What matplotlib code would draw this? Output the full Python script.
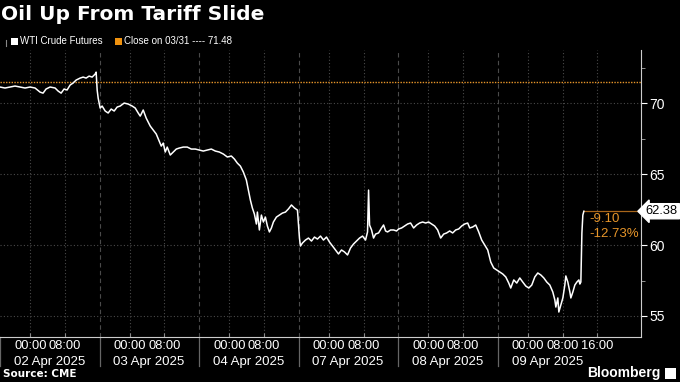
import numpy as np
import matplotlib
matplotlib.use('Agg')
import matplotlib.pyplot as plt
from matplotlib.lines import Line2D
from matplotlib.patches import Rectangle
import matplotlib.transforms as mtransforms

# trading hours since session start (CME sessions are 23 h long: 17:00 -> 16:00)
hours = [
    # 02 Apr
    0.00, 1.16, 2.31, 3.47, 4.63, 5.79, 6.94, 8.10, 9.26, 9.95, 10.64, 11.57, 12.73, 13.42, 14.12,
    14.81, 15.50, 16.20, 16.89, 17.59, 18.51, 19.21, 19.90, 20.59, 21.29, 21.98, 22.21, 22.45, 22.68, 23.14,
    # 03 Apr
    23.60, 24.30, 24.99, 25.69, 26.38, 27.07, 27.77, 28.69, 29.62, 30.54, 31.24, 31.93, 32.40, 33.09, 33.78,
    34.71, 35.40, 36.10, 36.79, 37.26, 37.72, 38.18, 38.64, 39.34, 40.03, 40.73, 41.42, 42.35, 43.27, 44.20,
    45.12, 46.05,
    # 04 Apr
    46.97, 47.90, 48.83, 49.75, 50.68, 51.60, 52.53, 53.45, 54.15, 54.84, 55.54, 56.23, 56.92, 57.39, 57.85,
    58.31, 58.78, 59.24, 59.47, 59.93, 60.40, 60.86, 61.32, 61.78, 62.25, 62.71, 63.17, 63.87, 64.56, 65.25,
    65.95, 66.64, 67.34, 68.03, 68.73, 69.19, 69.42,
    # 07 Apr
    69.88, 70.58, 71.27, 71.97, 72.66, 73.35, 74.05, 74.74, 75.44, 76.13, 76.82, 77.52, 78.21, 78.91, 79.60,
    80.30, 80.99, 81.68, 82.38, 83.07, 83.77, 84.46, 84.92, 85.16, 85.39, 85.85, 86.31, 86.78, 87.47, 88.16,
    88.63, 89.09, 89.55, 90.25, 90.94, 91.63, 92.10,
    # 08 Apr
    92.79, 93.49, 94.18, 94.87, 95.57, 96.26, 96.96, 97.65, 98.35, 99.04, 99.73, 100.43, 101.12, 101.82, 102.51,
    103.20, 103.90, 104.59, 105.29, 105.98, 106.68, 107.37, 108.06, 108.53, 109.22, 109.92, 110.61, 111.30,
    112.00, 112.69, 113.39, 114.08, 114.77,
    # 09 Apr
    115.47, 116.16, 116.86, 117.55, 118.01, 118.71, 119.40, 120.10, 120.79, 121.49, 122.18, 122.87, 123.57,
    124.26, 124.96, 125.65, 126.34, 127.04, 127.73, 128.20, 128.43, 128.89, 129.12, 129.58, 130.05, 130.51,
    130.74, 131.20, 131.67, 131.90, 132.36, 132.82, 133.29, 133.75, 133.98, 134.21, 134.45, 134.67, 134.91,
]
price = [
    71.13, 71.06, 71.13, 71.20, 71.13, 71.06, 71.13, 71.06, 70.77, 70.70, 70.99, 71.13, 71.06, 70.85, 70.70,
    70.99, 70.92, 71.27, 71.41, 71.62, 71.76, 71.83, 71.76, 71.90, 71.83, 72.04, 72.18, 70.92, 70.35, 69.65,
    69.79, 69.44, 69.30, 69.58, 69.44, 69.72, 69.79, 70.00, 69.93, 69.79, 69.65, 69.30, 69.08, 69.51, 68.94,
    68.38, 68.10, 67.82, 67.32, 66.97, 67.18, 66.55, 66.90, 66.34, 66.55, 66.76, 66.83, 66.90, 66.90, 66.76,
    66.76, 66.69,
    66.62, 66.69, 66.76, 66.62, 66.55, 66.41, 66.20, 66.27, 66.06, 65.77, 65.56, 65.14, 64.58, 63.87, 63.17,
    62.61, 62.18, 61.48, 62.32, 61.06, 62.11, 61.62, 61.97, 61.34, 60.92, 61.20, 61.62, 61.97, 62.11, 62.25,
    62.32, 62.54, 62.82, 62.61, 62.46, 60.49, 59.93,
    60.14, 60.35, 60.49, 60.28, 60.56, 60.42, 60.63, 60.35, 60.56, 60.21, 59.93, 59.65, 59.37, 59.65, 59.51,
    59.30, 59.79, 60.07, 60.28, 60.49, 60.63, 60.35, 60.92, 63.87, 61.41, 61.06, 60.49, 60.77, 60.85, 61.20,
    61.41, 60.99, 60.92, 61.06, 61.06, 60.99, 61.13,
    61.20, 61.34, 61.48, 61.55, 61.20, 61.41, 61.55, 61.62, 61.55, 61.62, 61.48, 61.34, 61.06, 60.49, 60.77,
    60.85, 60.99, 60.85, 61.06, 61.13, 61.34, 61.48, 61.55, 61.20, 61.27, 61.41, 60.92, 60.35, 60.00, 59.65,
    58.80, 58.38, 58.24,
    58.10, 57.96, 57.75, 57.32, 56.97, 57.54, 57.32, 57.68, 57.39, 57.11, 56.97, 57.18, 57.75, 58.03, 57.89,
    57.68, 57.39, 57.18, 56.69, 56.13, 55.63, 56.27, 55.28, 55.77, 56.27, 57.18, 57.82, 57.39, 56.69, 56.27,
    56.69, 57.18, 57.39, 57.54, 57.25, 57.39, 60.85, 62.11, 62.38,
]

sessions = ['02 Apr 2025', '03 Apr 2025', '04 Apr 2025', '07 Apr 2025', '08 Apr 2025', '09 Apr 2025']
session_len = 23
clock_ticks = [(7, '00:00'), (15, '08:00')]
last_extra_tick = (23, '16:00')
close_prev = 71.48
last_price = 62.38
chg_abs = '-9.10'
chg_pct = '-12.73%'
y_ticks = [55, 60, 65, 70]

ORANGE = '#e8962a'
GRID = '#4a4a4a'
NARROW = ['Liberation Sans Narrow', 'Liberation Sans', 'DejaVu Sans']

fig = plt.figure(figsize=(6.8, 3.82), dpi=100, facecolor='black')
ax = fig.add_axes([0.0, 0.1178, 0.9426, 0.751], facecolor='black')

ax.plot(hours, price, color='white', lw=1.1, zorder=3)
ax.axhline(close_prev, color=ORANGE, lw=1.0, ls=(0, (1, 1)), zorder=2)
ax.plot([hours[-1], 150], [last_price, last_price], color='#a8661a', lw=0.9, zorder=2)

ax.set_xlim(0, 148.1)
ax.set_ylim(53.52, 73.73)

# grid
for y in y_ticks:
    ax.axhline(y, color=GRID, lw=0.8, ls=(0, (1, 2)), zorder=1)
tick_pos, tick_lab = [], []
for i, day in enumerate(sessions):
    x0 = i * session_len
    if i > 0:
        ax.axvline(x0, color=GRID, lw=0.8, ls=(0, (4, 3)), zorder=1)
    ticks = list(clock_ticks)
    if i == len(sessions) - 1:
        ticks.append(last_extra_tick)
    for off, lab in ticks:
        ax.axvline(x0 + off, color=GRID, lw=0.8, ls=(0, (1, 2)), zorder=1)
        tick_pos.append(x0 + off)
        tick_lab.append(lab)

trans = mtransforms.blended_transform_factory(ax.transData, ax.transAxes)
for i, day in enumerate(sessions):
    x0 = i * session_len
    ax.text(x0 + 3.2, -0.088, day, transform=trans, color='white', fontsize=9.5,
            family=NARROW, ha='left', va='center')
    ax.add_line(Line2D([x0, x0], [0, -0.1], transform=trans, color='#666666',
                       lw=0.9, clip_on=False))

ax.set_xticks(tick_pos)
ax.set_xticklabels(tick_lab, fontsize=9.3, family=NARROW, color='white')
ax.tick_params(axis='x', length=3, color='#888888', pad=2, direction='in')

ax.yaxis.tick_right()
ax.set_yticks(y_ticks)
ax.set_yticklabels([str(v) for v in y_ticks], fontsize=10, family=NARROW, color='white')
ax.set_yticks([57.5, 62.5, 67.5, 72.5], minor=True)
ax.tick_params(axis='y', which='major', length=4, color='white', pad=2)
ax.tick_params(axis='y', which='minor', length=3, color='#aaaaaa')

for side in ['top', 'left']:
    ax.spines[side].set_visible(False)
ax.spines['right'].set_color('#cccccc')
ax.spines['bottom'].set_color('#cccccc')

# last price tag and change
ax.annotate(f'{last_price:.2f}', xy=(1.0, last_price), xycoords=('axes fraction', 'data'),
            xytext=(3.5, 0), textcoords='offset points', ha='left', va='center',
            fontsize=9.3, family=NARROW, color='black',
            bbox=dict(boxstyle='larrow,pad=0.12', fc='white', ec='white'), annotation_clip=False)
ax.text(hours[-1] + 1.2, last_price - 0.55, chg_abs, color=ORANGE, fontsize=9.5,
        family=NARROW, ha='left', va='center')
ax.text(hours[-1] + 1.2, last_price - 1.6, chg_pct, color=ORANGE, fontsize=9.5,
        family=NARROW, ha='left', va='center')

# title, legend, footer
fig.text(0.002, 1 - 14 / 382, 'Oil Up From Tariff Slide', color='white', fontsize=14.5,
         fontweight='bold', family=['DejaVu Sans'], ha='left', va='center')
fig.patches.append(Rectangle((11 / 680, 1 - 45 / 382), 7 / 680, 7 / 382, transform=fig.transFigure,
                             fc='white', ec='none'))
fig.add_artist(Line2D([6 / 680, 6 / 680], [1 - 46 / 382, 1 - 40 / 382], color='#888888', lw=0.8))
fig.text(20 / 680, 1 - 41.5 / 382, 'WTI Crude Futures', color='white', fontsize=7,
         family=NARROW, ha='left', va='center')
fig.patches.append(Rectangle((115 / 680, 1 - 45 / 382), 7 / 680, 7 / 382, transform=fig.transFigure,
                             fc='#f0920f', ec='none'))
fig.text(124 / 680, 1 - 41.5 / 382, f'Close on 03/31 ---- {close_prev:.2f}', color='white',
         fontsize=7, family=NARROW, ha='left', va='center')
fig.text(0.004, 1 - 374 / 382, 'Source: CME', color='white', fontsize=7.5, fontweight='bold',
         family=['DejaVu Sans'], ha='left', va='center')
fig.text(661 / 680, 1 - 373 / 382, 'Bloomberg', color='white', fontsize=10, fontweight='bold',
         family=['Liberation Sans', 'DejaVu Sans'], ha='right', va='center')
fig.patches.append(Rectangle((665 / 680, 1 - 379 / 382), 11 / 680, 11 / 382, transform=fig.transFigure,
                             fc='white', ec='none'))

fig.savefig('out.png', dpi=100, facecolor='black')
